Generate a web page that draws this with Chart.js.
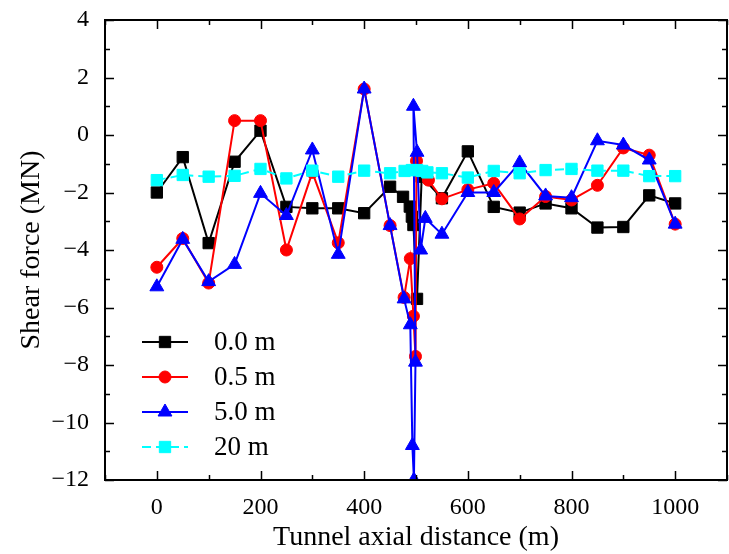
<!DOCTYPE html>
<html>
<head>
<meta charset="utf-8">
<script src="https://cdn.jsdelivr.net/npm/chart.js@4"></script>
<style>
  body { margin: 0; background: #fff; }
</style>
</head>
<body>
<canvas id="shearChart" width="729" height="554"></canvas>
<script>
// series labels
const labels = ['0.0 m', '0.5 m', '5.0 m', '20 m'];

// 0.0 m
const x00 = [0, 50, 100, 150, 200, 250, 300, 350, 400, 450, 475, 488, 492, 495, 502, 511, 550, 600, 650, 700, 750, 800, 850, 900, 950, 1000];
const y00 = [-2.0, -0.77, -3.76, -0.93, 0.15, -2.5, -2.55, -2.55, -2.72, -1.8, -2.15, -2.49, -2.84, -3.13, -5.7, -1.45, -2.2, -0.57, -2.5, -2.7, -2.38, -2.55, -3.22, -3.2, -2.1, -2.38];

// 0.5 m
const x05 = [0, 50, 100, 150, 200, 250, 300, 350, 400, 450, 477, 489, 495, 499, 501, 524, 550, 600, 650, 700, 750, 800, 850, 900, 950, 1000];
const y05 = [-4.6, -3.6, -5.15, 0.5, 0.5, -4.0, -1.3, -3.75, 1.6, -3.15, -5.65, -4.3, -6.3, -7.7, -0.9, -1.57, -2.22, -1.9, -1.68, -2.92, -2.14, -2.26, -1.75, -0.45, -0.7, -3.1];

// 5.0 m
const x50 = [0, 50, 100, 150, 200, 250, 300, 350, 400, 450, 477, 489, 493, 496, 499, 495, 502, 509, 518, 550, 600, 650, 700, 750, 800, 850, 900, 950, 1000];
const y50 = [-5.28, -3.63, -5.1, -4.5, -2.03, -2.8, -0.52, -4.15, 1.6, -3.15, -5.7, -6.6, -10.8, -12.0, -7.9, 1.0, -0.6, -4.0, -2.9, -3.45, -2.0, -2.0, -0.97, -2.12, -2.18, -0.2, -0.35, -0.87, -3.1];

// 20 m
const x20 = [0, 50, 100, 150, 200, 250, 300, 350, 400, 450, 478, 492, 502, 512, 522, 550, 600, 650, 700, 750, 800, 850, 900, 950, 1000];
const y20 = [-1.57, -1.39, -1.45, -1.42, -1.18, -1.51, -1.24, -1.45, -1.24, -1.33, -1.25, -1.22, -1.22, -1.25, -1.3, -1.33, -1.48, -1.25, -1.33, -1.22, -1.18, -1.24, -1.24, -1.43, -1.43];

const xTicks = [0, 200, 400, 600, 800, 1000];

function pts(xs, ys) {
  return xs.map((x, i) => ({ x: x, y: ys[i] }));
}

const serif = '"Liberation Serif", "Times New Roman", serif';

function makeSet(label, xs, ys, color, style, radius, order, dash) {
  return {
    label: label,
    data: pts(xs, ys),
    borderColor: color,
    backgroundColor: color,
    pointBackgroundColor: color,
    pointBorderColor: color,
    borderWidth: 2,
    borderDash: dash || [],
    pointStyle: style,
    pointRadius: radius,
    pointBorderWidth: 1,
    tension: 0,
    order: order
  };
}

// frame, inward ticks on all sides, and the legend
const frameTicks = {
  id: 'frameTicks',
  afterDraw(chart) {
    const ctx = chart.ctx;
    const a = chart.chartArea;
    const sx = chart.scales.x, sy = chart.scales.y;
    ctx.save();
    ctx.strokeStyle = '#000';
    ctx.lineWidth = 1.5;
    ctx.beginPath();
    for (let v = -100; v <= 1100; v += 100) {
      const px = Math.round(sx.getPixelForValue(v)) + 0.5;
      const len = (v % 200 === 0) ? 9 : 5;
      ctx.moveTo(px, a.bottom); ctx.lineTo(px, a.bottom - len);
      ctx.moveTo(px, a.top); ctx.lineTo(px, a.top + len);
    }
    for (let v = -12; v <= 4; v += 1) {
      const py = Math.round(sy.getPixelForValue(v)) + 0.5;
      const len = (v % 2 === 0) ? 9 : 5;
      ctx.moveTo(a.left, py); ctx.lineTo(a.left + len, py);
      ctx.moveTo(a.right, py); ctx.lineTo(a.right - len, py);
    }
    ctx.stroke();
    ctx.lineWidth = 2;
    ctx.strokeRect(a.left, a.top, a.right - a.left, a.bottom - a.top);

    // legend
    chart.data.datasets.forEach((ds, i) => {
      const ly = 342 + i * 35;
      ctx.strokeStyle = ds.borderColor;
      ctx.fillStyle = ds.backgroundColor;
      ctx.lineWidth = 2;
      ctx.setLineDash(ds.borderDash);
      ctx.beginPath();
      ctx.moveTo(142, ly); ctx.lineTo(188, ly);
      ctx.stroke();
      ctx.setLineDash([]);
      ctx.lineWidth = 1;
      Chart.helpers.drawPoint(ctx, { pointStyle: ds.pointStyle, radius: ds.pointRadius, borderWidth: 1, rotation: 0 }, 165, ly);
      ctx.fillStyle = '#000';
      ctx.font = '27px ' + serif;
      ctx.textBaseline = 'middle';
      ctx.textAlign = 'left';
      ctx.fillText(ds.label, 214, ly + 1);
    });
    ctx.restore();
  }
};

const ctx = document.getElementById('shearChart').getContext('2d');
new Chart(ctx, {
  type: 'line',
  data: {
    datasets: [
      makeSet(labels[0], x00, y00, '#000000', 'rect', 8, 4),
      makeSet(labels[1], x05, y05, '#ff0000', 'circle', 6, 3),
      makeSet(labels[2], x50, y50, '#0000ff', 'triangle', 8, 2),
      makeSet(labels[3], x20, y20, '#00ffff', 'rect', 8, 1, [9, 5])
    ]
  },
  options: {
    responsive: false,
    animation: false,
    devicePixelRatio: 1,
    layout: { autoPadding: false, padding: { top: 20, right: 2, left: 0, bottom: 0 } },
    plugins: {
      legend: { display: false },
      tooltip: { enabled: false }
    },
    scales: {
      x: {
        type: 'linear',
        min: -100,
        max: 1100,
        grid: { display: false },
        border: { display: false },
        ticks: {
          stepSize: 100,
          autoSkip: false,
          maxRotation: 0,
          padding: 5,
          color: '#000',
          font: { family: serif, size: 24 },
          callback: v => xTicks.includes(v) ? String(v) : ''
        },
        title: {
          display: true,
          text: 'Tunnel axial distance (m)',
          color: '#000',
          font: { family: serif, size: 28 },
          padding: { top: 0, bottom: 0 }
        },
        afterFit: s => { s.height = 74; s.paddingLeft = 0; s.paddingRight = 0; }
      },
      y: {
        min: -12,
        max: 4,
        grid: { display: false },
        border: { display: false },
        ticks: {
          stepSize: 2,
          padding: 8,
          color: '#000',
          font: { family: serif, size: 24 },
          callback: v => String(v).replace('-', '\u2212')
        },
        title: {
          display: true,
          text: 'Shear force (MN)',
          color: '#000',
          font: { family: serif, size: 28 },
          padding: { top: 15, bottom: 0 }
        },
        afterFit: s => { s.width = 105; s.paddingTop = 0; s.paddingBottom = 0; }
      }
    }
  },
  plugins: [frameTicks]
});
</script>
</body>
</html>
